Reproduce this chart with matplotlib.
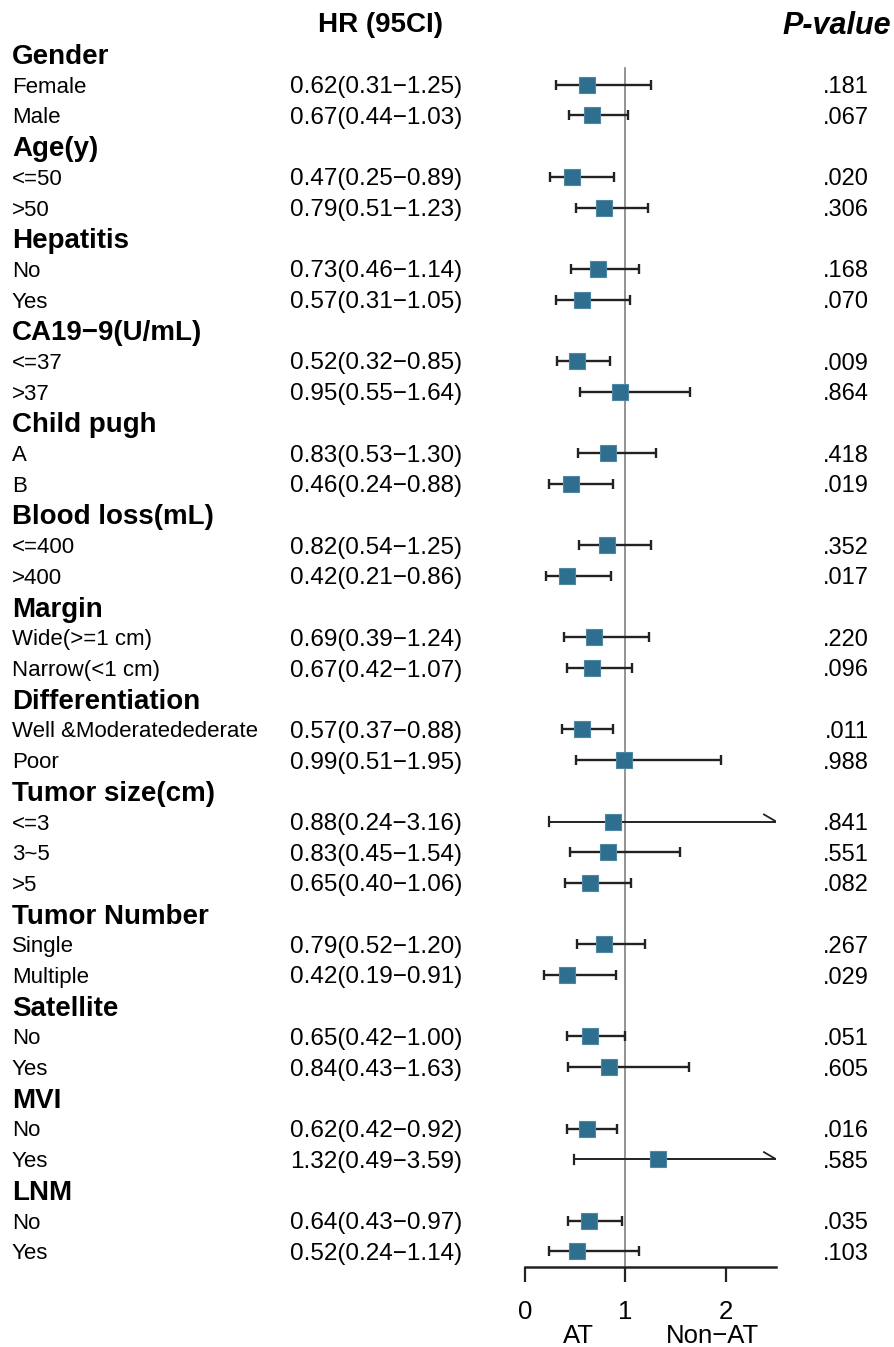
"""
Subgroup forest plot: HR (95CI) of AT vs Non-AT.
Run:  python3 plot.py   -> out.png
"""
import numpy as np
import matplotlib
matplotlib.use("Agg")
import matplotlib.pyplot as plt
from matplotlib.transforms import blended_transform_factory

plt.rcParams["font.family"] = ["Liberation Sans", "DejaVu Sans"]

# ---------------------------------------------------------------------------
# data
# ---------------------------------------------------------------------------
groups = ["Gender", "Age(y)", "Hepatitis", "CA19\u22129(U/mL)", "Child pugh",
          "Blood loss(mL)", "Margin", "Differentiation", "Tumor size(cm)",
          "Tumor Number", "Satellite", "MVI", "LNM"]
subgroups = [["Female", "Male"], ["<=50", ">50"], ["No", "Yes"],
             ["<=37", ">37"], ["A", "B"], ["<=400", ">400"],
             ["Wide(>=1 cm)", "Narrow(<1 cm)"],
             ["Well &Moderatedederate", "Poor"], ["<=3", "3~5", ">5"],
             ["Single", "Multiple"], ["No", "Yes"], ["No", "Yes"],
             ["No", "Yes"]]
hr = [0.62, 0.67, 0.47, 0.79, 0.73, 0.57, 0.52, 0.95, 0.83, 0.46, 0.82, 0.42,
      0.69, 0.67, 0.57, 0.99, 0.88, 0.83, 0.65, 0.79, 0.42, 0.65, 0.84, 0.62,
      1.32, 0.64, 0.52]
lo = [0.31, 0.44, 0.25, 0.51, 0.46, 0.31, 0.32, 0.55, 0.53, 0.24, 0.54, 0.21,
      0.39, 0.42, 0.37, 0.51, 0.24, 0.45, 0.40, 0.52, 0.19, 0.42, 0.43, 0.42,
      0.49, 0.43, 0.24]
hi = [1.25, 1.03, 0.89, 1.23, 1.14, 1.05, 0.85, 1.64, 1.30, 0.88, 1.25, 0.86,
      1.24, 1.07, 0.88, 1.95, 3.16, 1.54, 1.06, 1.20, 0.91, 1.00, 1.63, 0.92,
      3.59, 0.97, 1.14]
pval = [".181", ".067", ".020", ".306", ".168", ".070", ".009", ".864", ".418",
        ".019", ".352", ".017", ".220", ".096", ".011", ".988", ".841", ".551",
        ".082", ".267", ".029", ".051", ".605", ".016", ".585", ".035", ".103"]

xticks = [0, 1, 2]
xmax = 2.5
BLUE = "#2E6E8E"
INK = "#222222"

# ---------------------------------------------------------------------------
# layout (pixels of a 894 x 1347 canvas)
# ---------------------------------------------------------------------------
W, H = 894, 1347
row0, step = 54, 30.7          # centre of first row, row pitch
axis_y = 1267                  # pixel row of the x axis

fig = plt.figure(figsize=(W / 100, H / 100), dpi=100)
top_px = row0 - step
ax = fig.add_axes([525 / W, (H - axis_y) / H, 251 / W, (axis_y - top_px) / H])
ax.set_xlim(0, xmax)
ax.set_ylim((axis_y - row0) / step, -1)

tr = blended_transform_factory(fig.transFigure, ax.transData)

# rows: header, then its subgroups
r, k = 0, 0
for g, subs in zip(groups, subgroups):
    ax.text(12 / W, r, g, transform=tr, fontsize=20, fontweight="bold",
            va="center_baseline", ha="left")
    r += 1
    for s in subs:
        ax.text(12 / W, r, s, transform=tr, fontsize=16,
                va="center_baseline", ha="left")
        ax.text(290 / W, r,
                f"{hr[k]:.2f}({lo[k]:.2f}\u2212{hi[k]:.2f})",
                transform=tr, fontsize=17.5, va="center_baseline", ha="left")
        ax.text(869 / W, r, pval[k], transform=tr, fontsize=17,
                va="center_baseline", ha="right")

        if hi[k] > xmax:
            # CI runs off the scale -> open half-arrow at the edge
            ax.plot([lo[k], xmax], [r, r], color=INK, lw=1.4,
                    solid_capstyle="butt")
            ax.plot([lo[k], lo[k]], [r - 0.15, r + 0.15], color=INK, lw=1.6)
            ax.plot([xmax - 0.12, xmax], [r - 0.23, r], color=INK, lw=1.3)
        else:
            ax.errorbar(hr[k], r, xerr=[[hr[k] - lo[k]], [hi[k] - hr[k]]],
                        fmt="none", ecolor=INK, elinewidth=1.7,
                        capsize=3.5, capthick=1.7)
        ax.plot(hr[k], r, marker="s", ms=11.5, color=BLUE,
                mec="#4f87a3", mew=0.8, zorder=5)
        r += 1
        k += 1

# reference line at HR = 1
ax.plot([1, 1], [(68 - row0) / step, ax.get_ylim()[0]], color="#808080",
        lw=1.2, zorder=1)

# column headers
ax.text(381 / W, (22 - row0) / step, "HR (95CI)", transform=tr, fontsize=20,
        fontweight="bold", ha="center", va="center_baseline")
ax.text(891 / W, (22 - row0) / step, "P-value", transform=tr, fontsize=22,
        fontweight="bold", fontstyle="italic", ha="right",
        va="center_baseline")

# axis
for side in ["top", "right", "left"]:
    ax.spines[side].set_visible(False)
ax.spines["bottom"].set_linewidth(1.8)
ax.spines["bottom"].set_color(INK)
ax.set_yticks([])
ax.set_xticks(xticks)
ax.set_xticklabels([str(t) for t in xticks], fontsize=18.5)
ax.tick_params(axis="x", direction="out", length=11, width=1.6,
               color=INK, pad=13)

for x, lbl in [(0.53, "AT"), (1.87, "Non\u2212AT")]:
    ax.annotate(lbl, xy=(x, 0), xycoords=("data", "axes fraction"),
                xytext=(0, -50), textcoords="offset points",
                ha="center", va="center", fontsize=18.5)

fig.savefig("out.png", dpi=100)
print("wrote out.png")
